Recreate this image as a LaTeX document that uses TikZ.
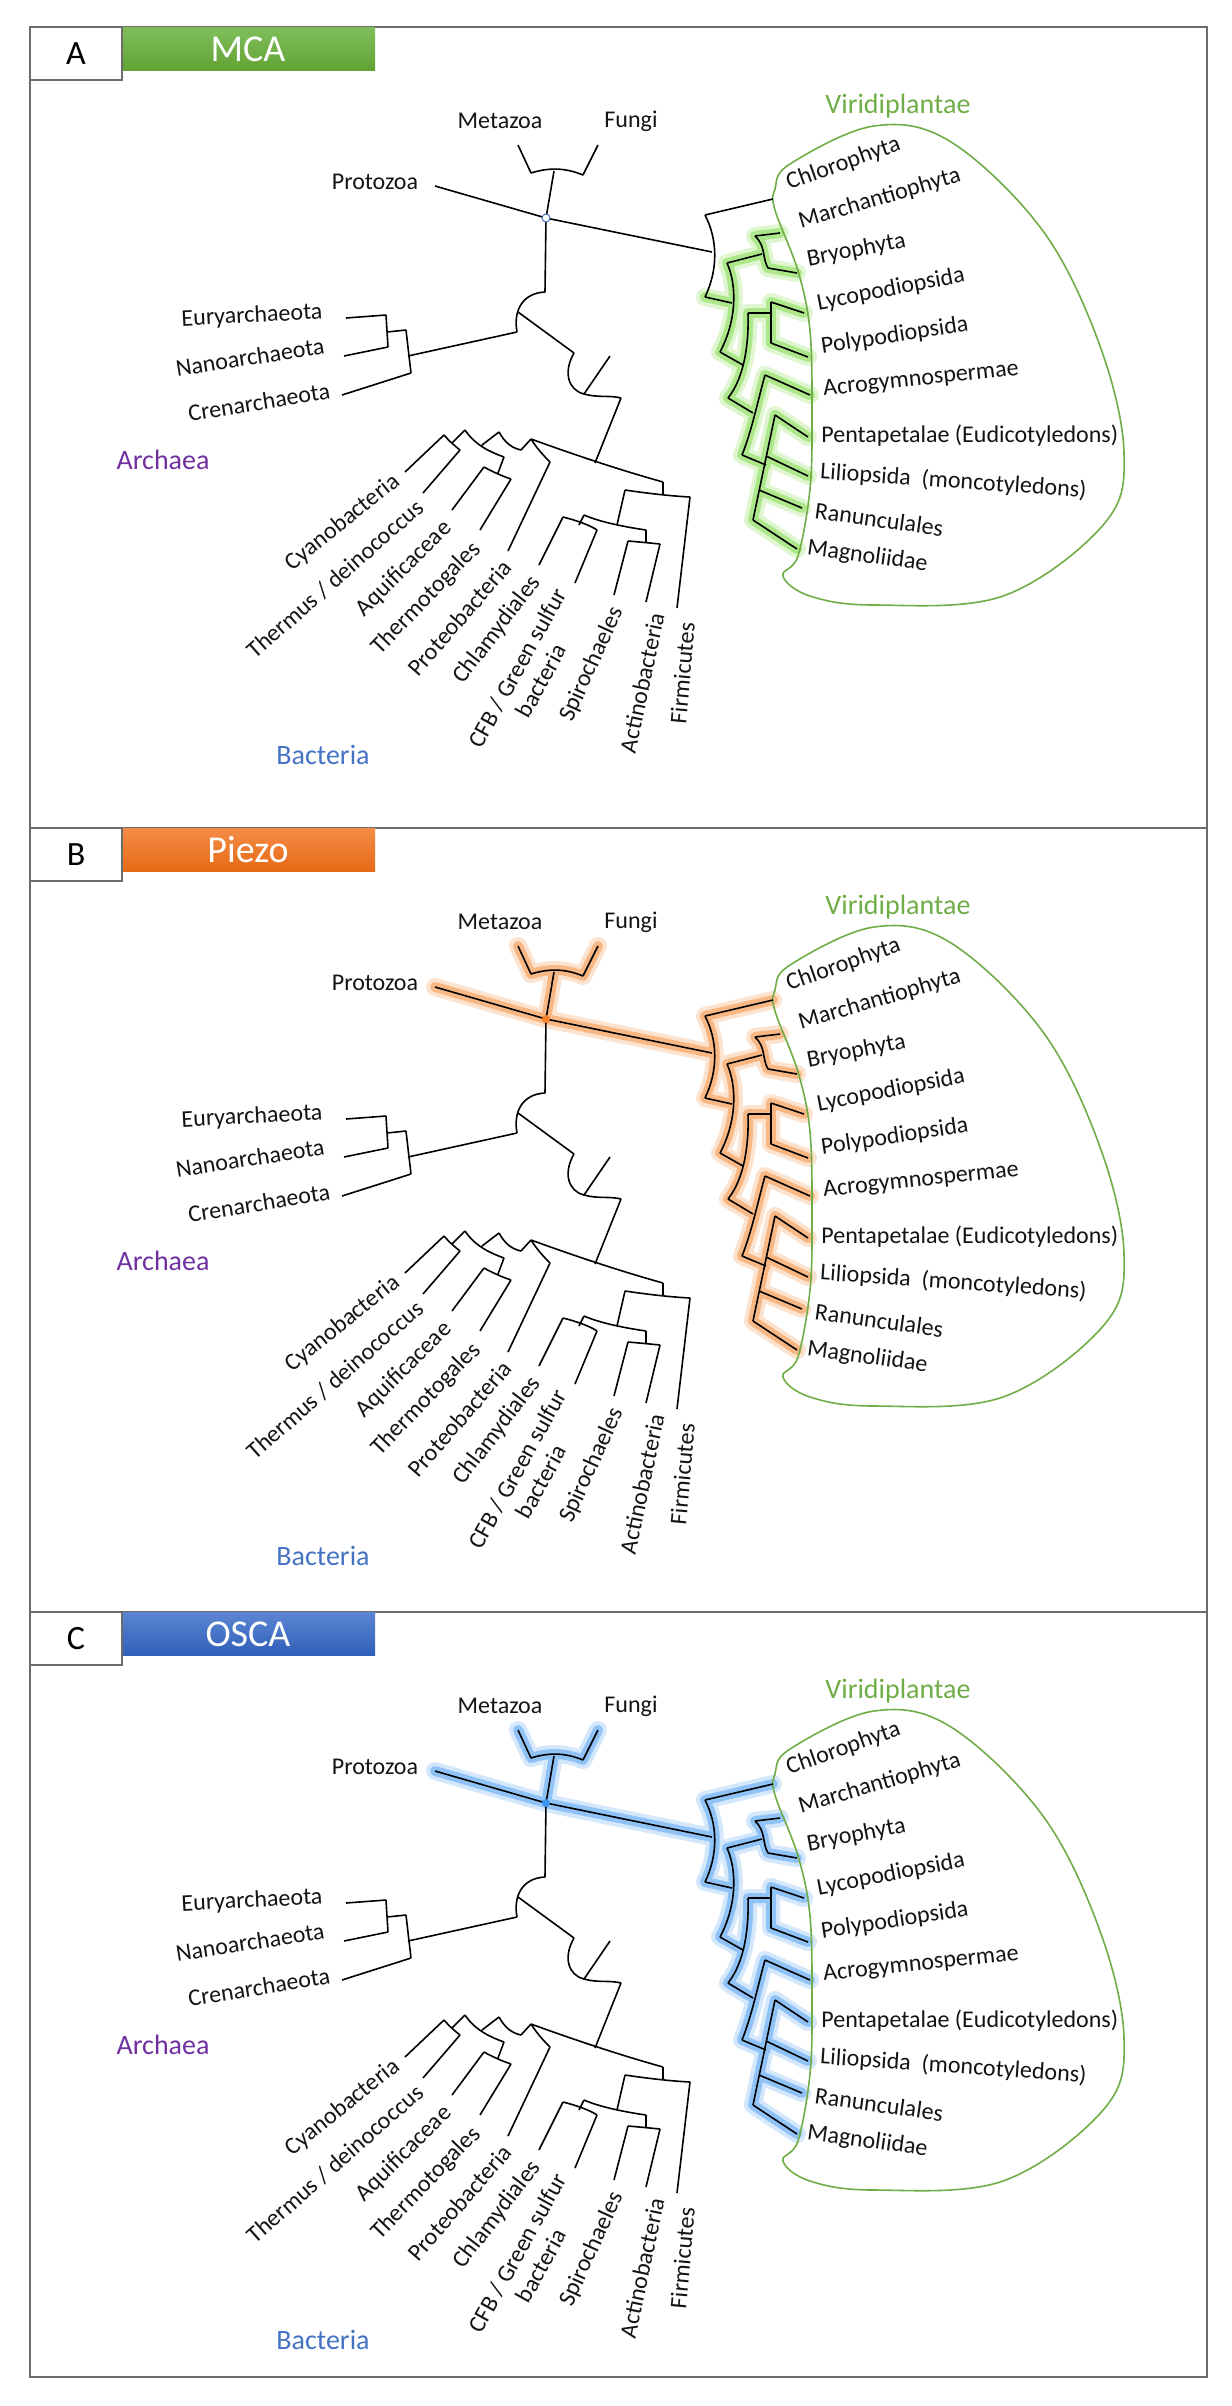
\documentclass[tikz,border=0pt]{standalone}
\usepackage{fontspec}
\setmainfont{Carlito}
\definecolor{gA1}{RGB}{128,190,92}\definecolor{gA2}{RGB}{98,163,52}
\definecolor{oB1}{RGB}{246,140,70}\definecolor{oB2}{RGB}{228,106,22}
\definecolor{bC1}{RGB}{92,134,210}\definecolor{bC2}{RGB}{47,95,184}
\definecolor{glowG}{RGB}{110,215,50}\definecolor{glowO}{RGB}{245,130,40}\definecolor{glowB}{RGB}{60,150,240}
\definecolor{vgreen}{RGB}{112,173,71}\definecolor{apurple}{RGB}{112,48,160}\definecolor{bblue}{RGB}{68,114,196}
\definecolor{txt}{RGB}{20,20,20}
\tikzset{
 br/.style={line width=0.8pt, draw=black, line join=round},
 glowa/.style={line width=9pt, draw=#1, draw opacity=0.22, line cap=round, line join=round},
 glowb/.style={line width=5pt, draw=#1, draw opacity=0.45, line cap=round, line join=round},
 lab/.style={font=\fontsize{12}{13.5}\selectfont, text=txt, inner sep=0.5pt},
 big/.style={font=\fontsize{14}{16}\selectfont, inner sep=1pt},
 pl/.style={lab, anchor=west},
 ba/.style={lab, anchor=east},
}
\def\EukP{(518,145)--(531,173) (598,145)--(583,175) (531,173) .. controls (550,167) and (566,168) .. (583,175) (554,171)--(546,218) (435,186)--(546,218)--(712,252)}
\def\PlTop{(705,215) .. controls (718,240) and (718,270) .. (705,297) (705,215)--(773,199)}
\def\PlLow{(705,297)--(732,303) (727,263) .. controls (737,285) and (737,320) .. (720,352) (727,263)--(762,254) (755,236) .. controls (766,246) and (762,258) .. (768,268) (755,236)--(780,233) (768,268)--(797,273) (720,352)--(743,365) (748,313) .. controls (749,345) and (744,378) .. (728,398) (748,313)--(771,313) (771,302)--(771,343) (771,302)--(804,313) (771,343)--(808,357) (728,398)--(753,413) (765,375) .. controls (758,400) and (752,430) .. (742,455) (765,375)--(810,395) (742,455)--(766,465) (775,415)--(753,520) (775,415)--(808,437) (766,456)--(808,476) (759,490)--(802,508) (753,520)--(797,549)}
\def\RestP{(546,218)--(545,292) (545,292) .. controls (523,293) and (513,310) .. (517,332) (517,332)--(408,356) (406,330)--(411,373) (387,332)--(406,330) (386,315)--(388,347) (346,318)--(386,315) (344,356)--(388,347) (342,395)--(411,373) (518,312)--(574,353) (574,353) .. controls (563,372) and (568,390) .. (584,394) .. controls (598,398) and (610,395) .. (621,398) (584,394)--(610,356) (621,398)--(595,463) (531,439) .. controls (575,455) and (620,470) .. (663,482) (663,482)--(663,495) (625,490) .. controls (645,493) and (670,496) .. (690,497) (690,497)--(677,608) (625,490)--(617,525) (584,515) .. controls (600,522) and (625,527) .. (646,530) (646,530)--(646,543) (628,541) .. controls (640,542) and (650,543) .. (660,544) (628,541)--(614,595) (660,544)--(646,602) (584,515)--(579,525) (563,517) .. controls (575,520) and (590,525) .. (597,530) (563,517)--(539,565) (597,530)--(575,583) (521,450)--(531,439) (531,439) .. controls (538,450) and (545,457) .. (550,462) (550,462)--(508,551) (482,445)--(499,432) (499,432) .. controls (505,443) and (512,448) .. (521,450) (452,443)--(465,430) (465,430) .. controls (475,445) and (490,452) .. (504,457) (504,457)--(498,473) (484,467) .. controls (493,472) and (502,476) .. (511,479) (484,467)--(452,510) (511,479)--(480,530) (444,435) .. controls (450,442) and (455,446) .. (460,450) (444,435)--(405,472) (460,450)--(423,493)}
% #1 top #2 bottom #3 letter #4 title #5 c1 #6 c2 #7 mode #8 glow
\newcommand\mypanel[8]{%
 \draw[draw=gray!85!black, line width=0.8pt] (30,#1) rectangle (1207,#2);
 \shade[top color=#5, bottom color=#6] (122,#1) rectangle (375,{#1+43});
 \draw[draw=gray!85!black, line width=0.6pt, fill=white] (30,#1) rectangle (122,{#1+53});
 \node[font=\fontsize{17}{19}\selectfont] (let#3) at (76,{#1+27}) {#3};
 \node[font=\fontsize{19}{21}\selectfont, text=white] (tit#3) at (248,{#1+22}) {#4};
 \begin{scope}[shift={(0,{#1-27})}]
  \ifnum#7=1
   \draw[glowa=#8] \EukP \PlTop \PlLow;
   \draw[glowb=#8] \EukP \PlTop \PlLow;
  \else
   \draw[glowa=#8] \PlLow;
   \draw[glowb=#8] \PlLow;
  \fi
  \draw[vgreen, line width=0.8pt] plot[smooth cycle, tension=0.6] coordinates {(874,126) (951,142) (1043,231) (1100,346) (1124,453) (1104,524) (1003,596) (874,605) (810,596) (783,576) (798,556) (810,489) (812,417) (810,331) (798,271) (775,210) (775,189) (790,164)};
  \draw[br] \EukP \PlTop \PlLow \RestP;
  \ifnum#7=1
   \node[circle, fill=#8, inner sep=0pt, minimum size=4pt] (n0#3) at (546,218) {};
  \else
   \node[circle, draw=bblue, fill=white, line width=0.5pt, inner sep=0pt, minimum size=4pt] (n0#3) at (546,218) {};
  \fi
  \node[lab] (met#3) at (500,121) {Metazoa};
  \node[lab] (fun#3) at (631,121) {Fungi};
  \node[lab] (pro#3) at (375,182) {Protozoa};
  \node[lab, rotate=3] (eur#3) at (252,316) {Euryarchaeota};
  \node[lab, rotate=9] (nan#3) at (250,357) {Nanoarchaeota};
  \node[lab, rotate=9] (cre#3) at (259,402) {Crenarchaeota};
  \node[big, text=apurple] (arc#3) at (163,460) {Archaea};
  \node[big, text=bblue] (bac#3) at (323,755) {Bacteria};
  \node[big, text=vgreen] (vir#3) at (898,106) {Viridiplantae};
  \node[ba, rotate=39] at (398,478) {Cyanobacteria};
  \node[ba, rotate=41.5] at (421,503) {Thermus / deinococcus};
  \node[ba, rotate=45] at (449,524) {Aquificaceae};
  \node[ba, rotate=46] at (478,545) {Thermotogales};
  \node[ba, rotate=49] at (508,562) {Proteobacteria};
  \node[ba, rotate=52.5] at (537,578) {Chlamydiales};
  \node[ba, rotate=61, align=center] at (573,595) {CFB / Green sulfur\\bacteria};
  \node[ba, rotate=65.5] at (618,607) {Spirochaeles};
  \node[ba, rotate=78] at (657,612) {Actinobacteria};
  \node[ba, rotate=85] at (687,621) {Firmicutes};
  \node[pl, rotate=19.5] at (786,184) {Chlorophyta};
  \node[pl, rotate=16.5] at (798,223) {Marchantiophyta};
  \node[pl, rotate=11] at (806,260) {Bryophyta};
  \node[pl, rotate=11] at (816,304) {Lycopodiopsida};
  \node[pl, rotate=8.5] at (820,347) {Polypodiopsida};
  \node[pl, rotate=6] at (822,390) {Acrogymnospermae};
  \node[pl] at (820,436) {Pentapetalae (Eudicotyledons)};
  \node[pl, rotate=-4] at (819,472) {Liliopsida\ \ (moncotyledons)};
  \node[pl, rotate=-8] at (814,510) {Ranunculales};
  \node[pl, rotate=-7.8] at (806,548) {Magnoliidae};
 \end{scope}
}
\begin{document}
\begin{tikzpicture}[x=0.5pt,y=-0.5pt]
\fill[white] (0,0) rectangle (1232,2406);
\useasboundingbox (0,0) rectangle (1232,2406);
\mypanel{27}{828}{A}{MCA}{gA1}{gA2}{0}{glowG}
\mypanel{828}{1612}{B}{Piezo}{oB1}{oB2}{1}{glowO}
\mypanel{1612}{2377}{C}{OSCA}{bC1}{bC2}{1}{glowB}
\end{tikzpicture}
\end{document}
